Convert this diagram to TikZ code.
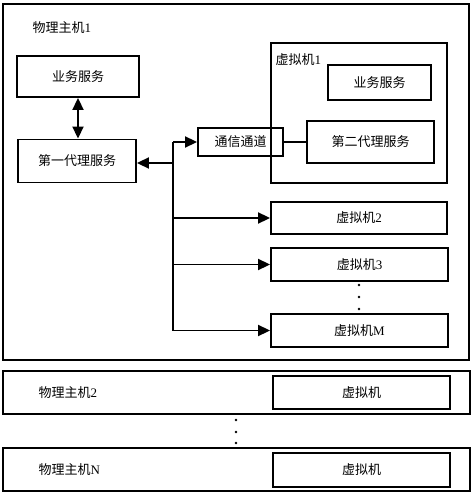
\documentclass[tikz,border=0pt]{standalone}
\usepackage{fontspec}
\setmainfont{Liberation Serif}
\newfontfamily\cjk{Noto Sans CJK SC}
\usetikzlibrary{positioning,arrows.meta}

\begin{document}
\begin{tikzpicture}[x=1pt,y=-1pt,
		font=\fontsize{13}{15}\selectfont,
		hostbox/.style={draw,line width=2.8pt,inner sep=0pt},
		box/.style={draw,line width=1.9pt,inner sep=0pt},
		link/.style={line width=1.9pt},
		arr/.style={line width=1.9pt,-{Triangle[length=12pt,width=11pt]}},
		dbl/.style={line width=1.9pt,{Triangle[length=12pt,width=11pt]}-{Triangle[length=12pt,width=11pt]}},
		dot/.style={circle,fill=black,inner sep=0pt,minimum size=2.6pt}]
			\useasboundingbox (0,0) rectangle (474,494);
			% physical host 1
			\node[hostbox,minimum width=466pt,minimum height=356pt] (host1) at (236,182) {};
			\node[anchor=west] (host1lbl) at (29,28) {{\cjk 物理主机}1};
			\node[box,minimum width=122pt,minimum height=41pt] (yewu1) at (78,76.5) {\cjk 业务服务};
			\node[box,minimum width=118pt,minimum height=43pt] (daili1) at (77,161) {\cjk 第一代理服务};
			\node[box,minimum width=85pt,minimum height=28pt] (tongxin) at (240.5,142) {\cjk 通信通道};
			% virtual machines
			\node[box,minimum width=176pt,minimum height=140pt] (vm1) at (359,113) {};
			\node[anchor=west] (vm1lbl) at (272,60) {{\cjk 虚拟机}1};
			\node[box,minimum width=103pt,minimum height=35pt] (yewu2) at (379.5,82.5) {\cjk 业务服务};
			\node[box,minimum width=127pt,minimum height=42pt] (daili2) at (370.5,142) {\cjk 第二代理服务};
			\node[box,minimum width=176pt,minimum height=32pt] (vm2) at (359,218) {{\cjk 虚拟机}2};
			\node[box,minimum width=177pt,minimum height=33pt] (vm3) at (359.5,264.5) {{\cjk 虚拟机}3};
			\node[box,minimum width=177pt,minimum height=33pt] (vmM) at (359.5,330.5) {{\cjk 虚拟机}M};
			\foreach \Y/\Nom in {285/a,297/b,309/c}
				\node[dot] (vmdot\Nom) at (359,\Y) {};
			% connectors
			\coordinate (j) at (173,163);
			\draw[dbl] (yewu1.south) -- (yewu1.south |- daili1.north);
			\draw[arr] (j) -- (j -| daili1.east);
			\draw[link] (j |- tongxin.west) -- (j |- vmM.west);
			\draw[arr] (j |- tongxin.west) -- (tongxin.west);
			\draw[link] (tongxin.east) -- (daili2.west);
			\draw[arr] (j |- vm2.west) -- (vm2.west);
			\draw[arr] (j |- vm3.west) -- (vm3.west);
			\draw[arr] (j |- vmM.west) -- (vmM.west);
			% physical host 2
			\node[hostbox,minimum width=467pt,minimum height=43pt] (host2) at (236.5,392.5) {};
			\node[anchor=west] (host2lbl) at (35,393) {{\cjk 物理主机}2};
			\node[box,minimum width=177pt,minimum height=33pt] (host2vm) at (361.5,392.5) {\cjk 虚拟机};
			\foreach \Y/\Nom in {420/a,432/b,443/c}
				\node[dot] (hostdot\Nom) at (236,\Y) {};
			% physical host N
			\node[hostbox,minimum width=467pt,minimum height=43pt] (hostN) at (236.5,469.5) {};
			\node[anchor=west] (hostNlbl) at (35,470) {{\cjk 物理主机}N};
			\node[box,minimum width=177pt,minimum height=34pt] (hostNvm) at (361.5,470) {\cjk 虚拟机};
		\end{tikzpicture}
\end{document}
